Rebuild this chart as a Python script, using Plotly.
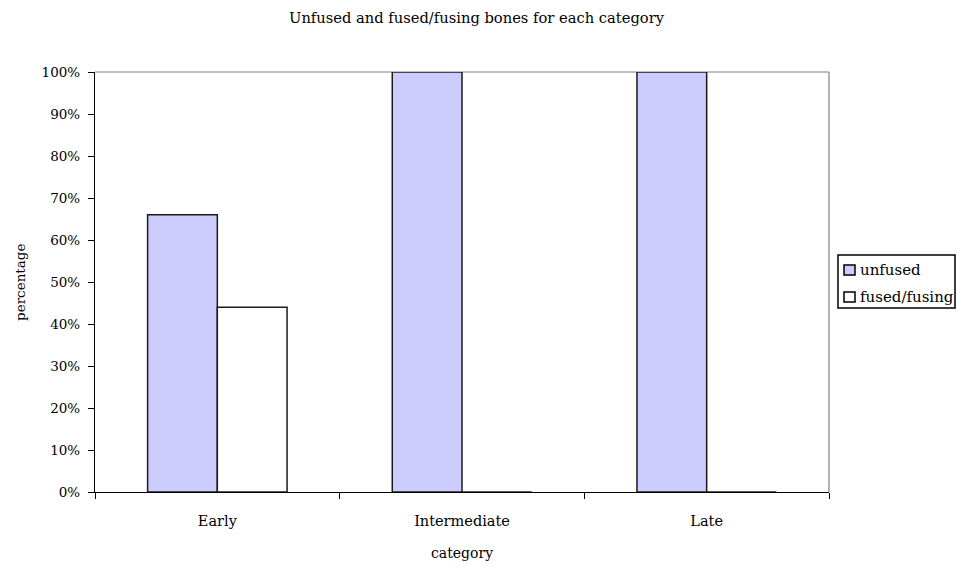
import plotly.graph_objects as go

categories = ["Early", "Intermediate", "Late"]
unfused = [66, 100, 100]
fused_fusing = [44, 0, 0]
series_names = ["unfused", "fused/fusing"]
series_colors = ["#CCCCFF", "#FFFFFF"]
tick_vals = [0, 10, 20, 30, 40, 50, 60, 70, 80, 90, 100]
tick_text = [f"{v}%" for v in tick_vals]

TXT = "DejaVu Serif, serif"

fig = go.Figure()
for name, vals, col in zip(series_names, [unfused, fused_fusing], series_colors):
    fig.add_trace(go.Bar(name=name, x=categories, y=vals,
                         marker=dict(color=col, line=dict(color="#1a1a1a", width=1.5))))

# px -> paper helpers for decorations (plot area 95..829 x, 72..492 y)
L, R, T, B = 95, 829, 72, 492
def px(x):
    return (x - L) / (R - L)
def py(y):
    return (B - y) / (B - T)

shapes = [
    dict(type="line", xref="paper", yref="paper", x0=0, x1=1, y0=1, y1=1,
         line=dict(color="#808080", width=1.2), layer="below"),
    dict(type="line", xref="paper", yref="paper", x0=1, x1=1, y0=0, y1=1,
         line=dict(color="#808080", width=1.2), layer="below"),
    # legend box
    dict(type="rect", xref="paper", yref="paper", x0=px(838), x1=px(955), y0=py(308), y1=py(255),
         line=dict(color="#000000", width=1.5), fillcolor="white"),
]
annotations = [
    dict(text="Unfused and fused/fusing bones for each category", xref="paper", yref="paper",
         x=px(477), y=py(17), xanchor="center", yanchor="middle", showarrow=False,
         font=dict(family=TXT, size=14.7, color="#000")),
    dict(text="category", xref="paper", yref="paper", x=px(462), y=py(553),
         xanchor="center", yanchor="middle", showarrow=False,
         font=dict(family=TXT, size=14, color="#000")),
    dict(text="percentage", xref="paper", yref="paper", x=px(20), y=py(283), textangle=-90,
         xanchor="center", yanchor="middle", showarrow=False,
         font=dict(family=TXT, size=13.5, color="#000")),
]
for i, (name, col) in enumerate(zip(series_names, series_colors)):
    cy = 270 + 27 * i
    shapes.append(dict(type="rect", xref="paper", yref="paper", x0=px(844), x1=px(855),
                       y0=py(cy + 5), y1=py(cy - 5),
                       line=dict(color="#000000", width=1.5), fillcolor=col))
    annotations.append(dict(text=name, xref="paper", yref="paper", x=px(858), y=py(cy),
                            xanchor="left", yanchor="middle", showarrow=False,
                            font=dict(family=TXT, size=15, color="#000")))

fig.update_layout(
    width=957, height=567,
    margin=dict(l=L, r=957 - R, t=T, b=567 - B, autoexpand=False),
    paper_bgcolor="white", plot_bgcolor="white",
    barmode="group", bargap=0.43, bargroupgap=0,
    font=dict(family=TXT, size=14, color="#000000"),
    showlegend=False,
    shapes=shapes,
    annotations=annotations,
)
fig.update_xaxes(
    automargin=False,
    showline=True, linecolor="#000000", linewidth=1.2,
    ticks="outside", tickson="boundaries", ticklen=6, tickcolor="#000000",
    showgrid=False, tickfont=dict(family=TXT, size=14.5), ticklabelstandoff=15,
)
fig.update_yaxes(
    automargin=False,
    range=[0, 100], tickvals=tick_vals, ticktext=tick_text,
    showline=True, linecolor="#000000", linewidth=1.2,
    ticks="outside", ticklen=6, tickcolor="#000000",
    showgrid=False, zeroline=False, tickfont=dict(family=TXT, size=13.5),
    ticklabelstandoff=5,
)

fig.write_html("out.html", config={"displayModeBar": False},
               post_script="document.body.style.margin='0';document.body.style.overflow='hidden';")
